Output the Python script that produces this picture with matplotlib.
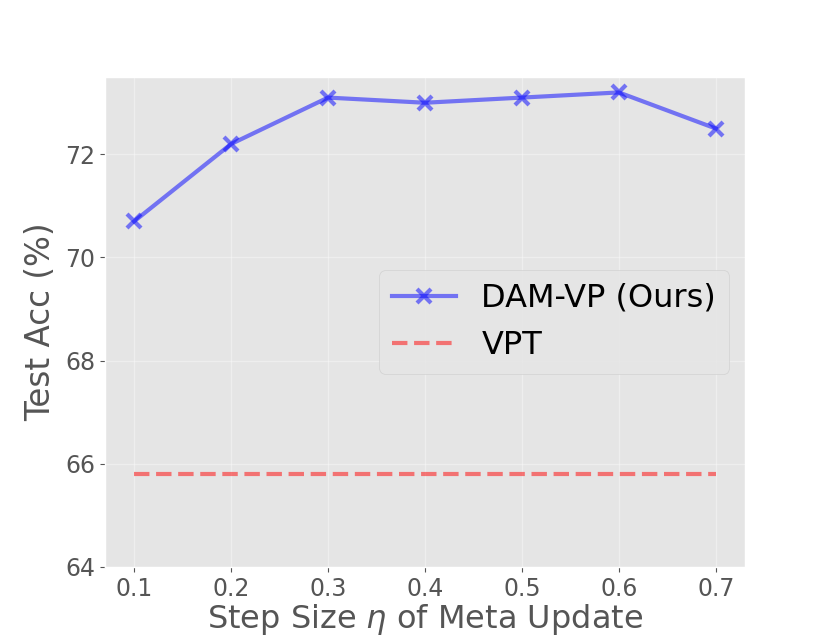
import matplotlib
matplotlib.use("Agg")
import matplotlib.pyplot as plt

steps = [0.1, 0.2, 0.3, 0.4, 0.5, 0.6, 0.7]
dam_vp = [70.7, 72.2, 73.1, 73.0, 73.1, 73.2, 72.5]
vpt = [65.8] * len(steps)
xticks = [0.1, 0.2, 0.3, 0.4, 0.5, 0.6, 0.7]
yticks = [64, 66, 68, 70, 72]

plt.style.use("ggplot")
fig = plt.figure(figsize=(8.3, 6.36), dpi=100)
ax = fig.add_axes([0.1265, 0.1085, 0.771, 0.7705])
ax.plot(steps, dam_vp, color="blue", alpha=0.5, linewidth=3, marker="x",
        markersize=10, markeredgewidth=3, label="DAM-VP (Ours)")
ax.plot(steps, vpt, color="red", alpha=0.5, linewidth=3, linestyle="--", label="VPT")
ax.set_ylim(64, 73.5)
ax.set_xticks(xticks)
ax.set_xticklabels([str(x) for x in xticks])
ax.set_yticks(yticks)
ax.grid(True, color="white", alpha=0.35, linewidth=1)
ax.tick_params(labelsize=17, colors="#555555")
ax.set_xlabel(r"Step Size $\eta$ of Meta Update", fontsize=23, color="#555555", labelpad=1)
ax.set_ylabel("Test Acc (%)", fontsize=23.5, color="#555555", labelpad=6)
ax.legend(loc="center right", fontsize=23, bbox_to_anchor=(1.0, 0.50),
          handlelength=2.0)
fig.savefig("out.png", dpi=100)
